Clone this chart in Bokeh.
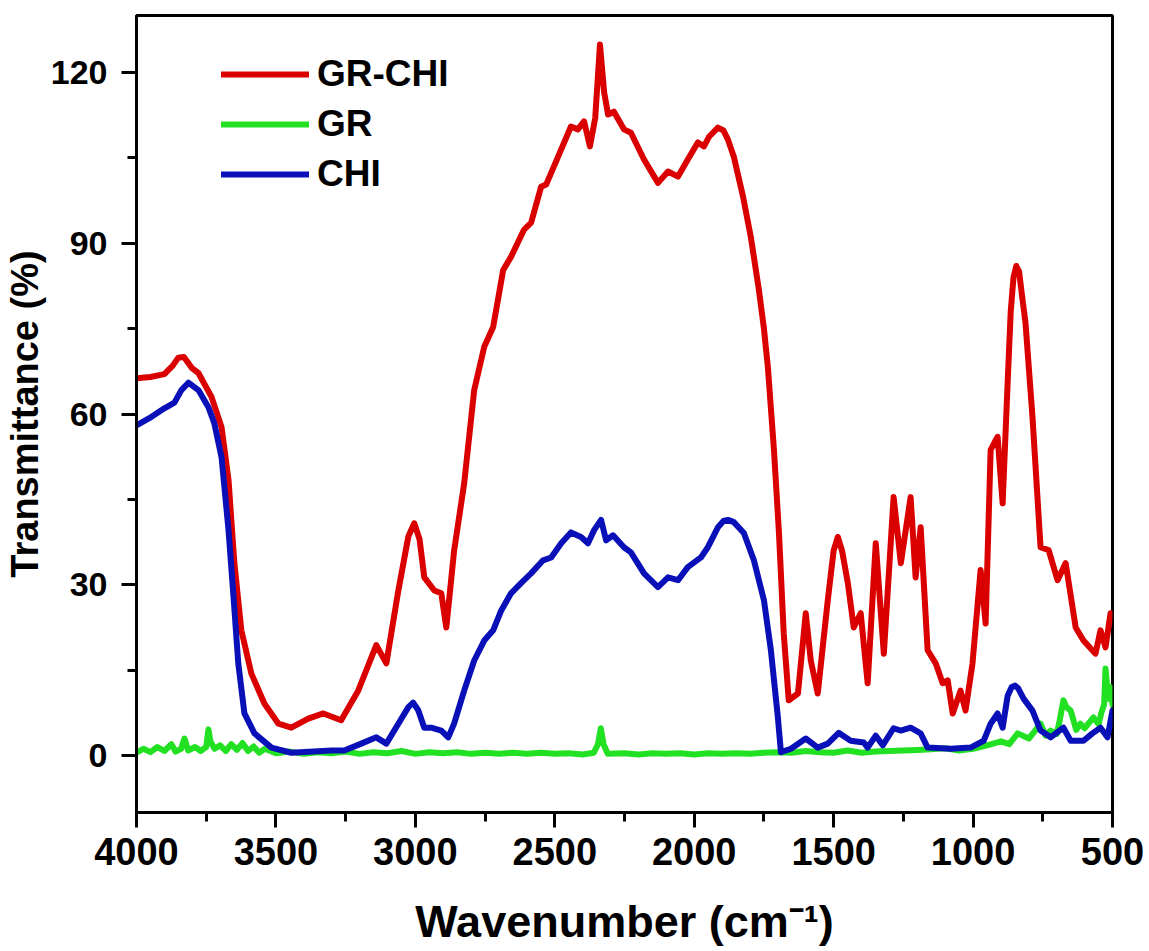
import numpy as np
from bokeh.plotting import figure
from bokeh.models import (Range1d, SingleIntervalTicker, Legend, LegendItem)
from bokeh.embed import file_html
from bokeh.resources import INLINE

# ---------------- data ----------------
grchi_wn = [4000, 3950, 3900, 3870, 3850, 3830, 3800, 3778, 3731, 3695, 3670, 3649, 3624, 3588,
            3541, 3491, 3445, 3384, 3330, 3266, 3205, 3140, 3104, 3061, 3025, 3004, 2985, 2968, 2932, 2907,
            2889, 2861, 2825, 2789, 2753, 2721, 2685, 2657, 2610, 2585, 2549, 2531, 2488, 2442,
            2417, 2395, 2374, 2355, 2338, 2323, 2309, 2288, 2252, 2227, 2180, 2130, 2094, 2058,
            2023, 1987, 1965, 1947, 1915, 1895, 1879, 1858, 1825, 1797, 1768, 1750, 1736, 1714, 1696,
            1679, 1661, 1628, 1600, 1582, 1557, 1521, 1500, 1485, 1470, 1449, 1428, 1403, 1378, 1349, 1320,
            1285, 1259, 1224, 1206, 1188, 1163, 1134, 1109, 1091, 1073, 1045, 1027, 1002, 973,
            955, 937, 912, 894, 876, 865, 855, 845, 835, 825, 812, 787, 758, 729, 697, 668, 632, 604, 561, 543, 525, 507]
grchi_t = [66.3, 66.5, 67.0, 68.5, 69.9, 70.0, 68.0, 67.2, 63.0, 57.7, 48.4, 33.8, 22.0, 14.4,
           9.1, 5.6, 4.9, 6.5, 7.4, 6.2, 11.4, 19.4, 16.2, 29.0, 38.5, 40.8, 38.0, 31.3, 29.0, 28.5,
           22.5, 36.0, 47.8, 64.2, 71.8, 75.3, 85.3, 87.6, 92.4, 93.6, 99.9, 100.3, 105.2, 110.5,
           110.0, 111.4, 107.0, 112.0, 124.9, 116.5, 112.6, 113.1, 110.0, 109.4, 104.7, 100.6, 102.6, 101.7,
           104.7, 107.7, 107.0, 108.7, 110.3, 109.8, 108.2, 105.2, 98.2, 91.1, 81.8, 75.0, 68.3, 53.7, 39.0,
           21.5, 9.7, 10.9, 25.0, 16.7, 10.9, 27.3, 36.0, 38.4, 36.0, 30.3, 22.5, 25.0, 12.7, 37.3, 17.9,
           45.4, 33.8, 45.4, 31.3, 40.1, 18.5, 16.2, 12.7, 13.2, 7.4, 11.4, 7.9, 16.2, 32.6,
           23.2, 53.7, 56.0, 44.3, 65.5, 78.0, 84.0, 86.0, 85.0, 81.0, 76.0, 59.5, 36.6, 36.1, 30.8, 33.8, 22.5, 20.2, 17.9, 22.0, 19.0, 25.0]

gr_wn = [4000, 3975, 3950, 3925, 3900, 3875, 3860, 3840, 3828, 3815, 3790, 3770, 3750, 3742,
         3735, 3720, 3700, 3680, 3660, 3640, 3620, 3600, 3580, 3560, 3540, 3500, 3450, 3400,
         3350, 3300, 3250, 3200, 3150, 3100, 3050, 3000, 2950, 2900, 2850, 2800, 2750, 2700,
         2650, 2600, 2550, 2500, 2450, 2400, 2360, 2345, 2335, 2325, 2310, 2250, 2200, 2150,
         2100, 2050, 2000, 1950, 1900, 1850, 1800, 1750, 1700, 1650, 1600, 1550, 1500, 1450,
         1400, 1350, 1300, 1250, 1200, 1150, 1100, 1050, 1000, 950, 900, 870, 840, 800, 780,
         758, 740, 722, 700, 690, 676, 665, 650, 630, 615, 600, 580, 568, 550, 540, 530, 525,
         515, 507, 500]
gr_t = [0.5, 1.2, 0.6, 1.5, 0.8, 2.0, 0.7, 1.2, 3.0, 0.9, 1.5, 0.8, 1.5, 4.6,
        2.5, 1.2, 1.8, 0.8, 2.0, 1.0, 2.2, 0.8, 1.6, 0.5, 1.2, 0.4, 0.7, 0.3,
        0.6, 0.4, 0.7, 0.3, 0.6, 0.4, 0.8, 0.3, 0.6, 0.4, 0.6, 0.3, 0.5, 0.3,
        0.5, 0.3, 0.5, 0.3, 0.4, 0.2, 0.5, 2.0, 4.8, 2.0, 0.3, 0.4, 0.2, 0.4,
        0.3, 0.4, 0.2, 0.4, 0.3, 0.4, 0.3, 0.5, 0.6, 0.5, 0.8, 0.6, 0.5, 0.9,
        0.5, 0.7, 0.8, 0.9, 1.0, 1.1, 1.3, 0.9, 1.2, 1.8, 2.5, 2.0, 3.9, 3.0, 4.2,
        5.6, 3.5, 4.4, 3.8, 6.0, 9.7, 8.5, 7.9, 4.5, 5.6, 4.8, 6.0, 6.7, 5.5, 7.5, 9.0, 15.3,
        10.0, 12.0, 9.0]

chi_wn = [4000, 3946, 3900, 3864, 3839, 3814, 3778, 3742, 3721, 3695, 3670, 3652, 3635, 3613,
          3577, 3516, 3445, 3301, 3255, 3194, 3140, 3104, 3061, 3025, 3008, 2990, 2968, 2943, 2907, 2882,
          2861, 2825, 2789, 2753, 2721, 2692, 2657, 2621, 2585, 2542, 2513, 2477, 2442, 2406,
          2381, 2359, 2334, 2316, 2291, 2252, 2227, 2180, 2130, 2094, 2058, 2023, 1976, 1951,
          1915, 1895, 1879, 1858, 1822, 1786, 1750, 1725, 1700, 1689, 1653, 1600, 1557, 1521, 1482,
          1439, 1392, 1378, 1349, 1324, 1285, 1259, 1224, 1188, 1163, 1080, 1009, 962, 937,
          912, 894, 876, 862, 850, 838, 819, 787, 758, 722, 676, 650, 604, 572, 543, 518, 500]
chi_t = [58.0, 59.5, 61.0, 62.0, 64.2, 65.5, 64.2, 61.2, 58.4, 52.4, 39.6, 27.8, 16.2, 7.4,
         3.9, 1.4, 0.5, 0.9, 0.9, 2.1, 3.2, 2.1, 5.6, 8.5, 9.3, 8.0, 4.9, 4.9, 4.4, 3.2,
         5.6, 11.4, 16.7, 20.2, 22.0, 25.5, 28.5, 30.3, 32.0, 34.3, 34.8, 37.3, 39.2, 38.4,
         37.3, 39.6, 41.4, 37.8, 38.7, 36.6, 35.7, 32.0, 29.6, 31.3, 30.8, 33.1, 34.8, 36.6,
         40.1, 41.2, 41.4, 41.0, 39.1, 34.3, 27.3, 18.5, 6.7, 0.6, 1.2, 3.0, 1.4, 2.1, 4.0,
         2.6, 2.3, 1.4, 3.5, 1.8, 4.8, 4.4, 4.9, 3.9, 1.4, 1.2, 1.4, 2.6, 5.6,
         7.4, 4.9, 10.5, 12.0, 12.3, 11.8, 10.0, 7.9, 4.4, 3.2, 4.9, 2.6, 2.6, 3.9, 4.9, 3.2, 7.9]

series_names = ["GR-CHI", "GR", "CHI"]
series_colors = ["#da0000", "#22e022", "#0a10b8"]

FONT = "Liberation Sans"

p = figure(width=1149, height=951, output_backend="svg", toolbar_location=None,
           x_range=Range1d(4000, 500), y_range=Range1d(-10, 130),
           min_border_left=135, min_border_right=37, min_border_top=15, min_border_bottom=139)
p.grid.visible = False
p.outline_line_color = "black"
p.outline_line_width = 3
p.background_fill_color = "white"
p.border_fill_color = "white"

r_gr = p.line(gr_wn, gr_t, line_color=series_colors[1], line_width=6, line_join="round", line_cap="round")
r_grchi = p.line(grchi_wn, grchi_t, line_color=series_colors[0], line_width=6, line_join="round", line_cap="round")
r_chi = p.line(chi_wn, chi_t, line_color=series_colors[2], line_width=6, line_join="round", line_cap="round")

p.xaxis.ticker = SingleIntervalTicker(interval=500, num_minor_ticks=2)
p.yaxis.ticker = SingleIntervalTicker(interval=30, num_minor_ticks=2)

for ax in (p.xaxis[0], p.yaxis[0]):
    ax.axis_line_width = 3
    ax.major_tick_line_width = 3
    ax.minor_tick_line_width = 3
    ax.major_tick_in = 0
    ax.minor_tick_in = 0
    ax.major_tick_out = 15
    ax.minor_tick_out = 9
    ax.major_label_text_font = FONT
    ax.major_label_text_font_style = "bold"
    ax.major_label_text_color = "black"
    ax.axis_label_text_font = FONT
    ax.axis_label_text_font_style = "bold"
    ax.axis_label_text_color = "black"

p.xaxis.major_label_text_font_size = "38px"
p.yaxis.major_label_text_font_size = "34px"
p.xaxis.major_label_standoff = 10
p.yaxis.major_label_standoff = 14
p.xaxis.axis_label = "Wavenumber (cm\u207b\u00b9)"
p.yaxis.axis_label = "Transmittance (%)"
p.xaxis.axis_label_text_font_size = "45px"
p.yaxis.axis_label_text_font_size = "38px"
p.xaxis.axis_label_standoff = 28
p.yaxis.axis_label_standoff = 2

legend = Legend(items=[LegendItem(label=series_names[0], renderers=[r_grchi]),
                       LegendItem(label=series_names[1], renderers=[r_gr]),
                       LegendItem(label=series_names[2], renderers=[r_chi])],
                location=(85, 617), border_line_alpha=0, background_fill_alpha=0,
                padding=0, margin=0, spacing=8, glyph_width=88, glyph_height=40,
                label_standoff=8, label_text_font=FONT, label_text_font_style="bold",
                label_text_font_size="37px", label_text_color="black")
p.add_layout(legend)

open("out.html", "w").write(file_html(p, INLINE))
